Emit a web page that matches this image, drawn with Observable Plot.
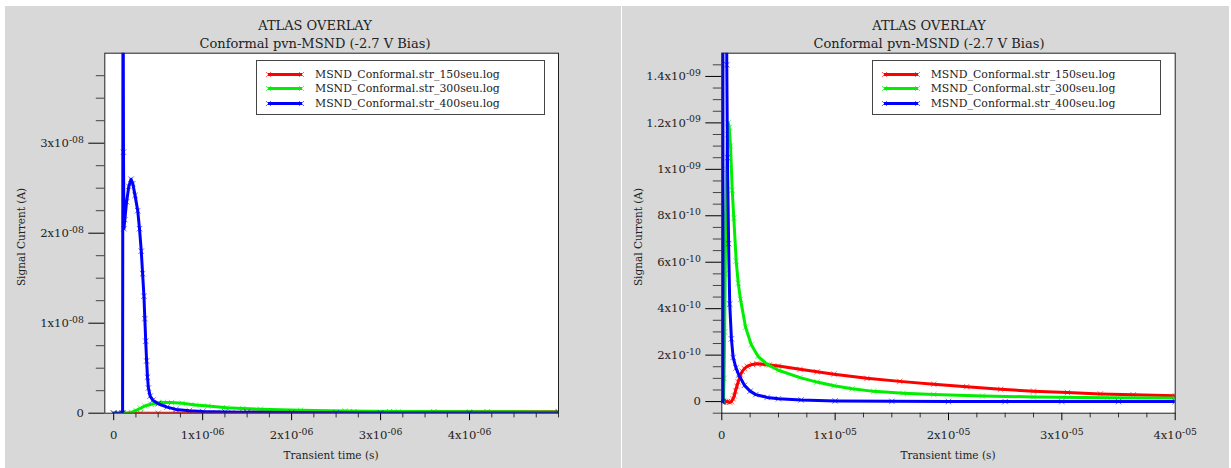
<!DOCTYPE html>
<html>
<head>
<meta charset="utf-8">
<script src="https://cdn.jsdelivr.net/npm/d3@7"></script>
<script src="https://cdn.jsdelivr.net/npm/@observablehq/plot@0.6"></script>
<style>
  html, body { margin: 0; padding: 0; background: #ffffff; }
  body { width: 1231px; height: 468px; position: relative; overflow: hidden; font-family: "DejaVu Serif", serif; color: #222; }
  .panel { position: absolute; top: 6px; height: 462px; background: #d8d8d8; overflow: hidden; }
  .panel svg.plot { position: absolute; left: 0; top: 0; }
  .title { position: absolute; transform: translate(-50%, -50%); white-space: nowrap; font-size: 13px; color: #222; }
  .ylab { position: absolute; transform: translate(-50%, -50%) rotate(-90deg); white-space: nowrap; font-size: 10.5px; color: #222; }
  .xlab { position: absolute; transform: translate(-50%, -50%); white-space: nowrap; font-size: 10.5px; color: #222; }
  .legend { position: absolute; border: 1px solid #444; background: #fff; box-sizing: border-box; padding-top: 6px; }
  .legend .row { height: 14.6px; display: flex; align-items: center; font-size: 10.9px; color: #222; white-space: nowrap; }
  .legend .row svg { margin-left: 9px; margin-right: 11px; }
</style>
</head>
<body>
<div id="p1" class="panel" style="left:5px;width:616px;"></div>
<div id="p2" class="panel" style="left:622px;width:607px;"></div>
<script>
// ---- series (time in s, current in A) ----
const seriesNames = ["MSND_Conformal.str_150seu.log", "MSND_Conformal.str_300seu.log", "MSND_Conformal.str_400seu.log"];
const seriesColors = ["#ff0000", "#00ee00", "#0000ff"];

const t150 = [0, 0.3e-6, 0.5e-6, 0.7e-6, 0.85e-6, 1.0e-6, 1.1e-6, 1.21e-6, 1.33e-6, 1.45e-6, 1.55e-6, 1.65e-6, 1.8e-6, 2.0e-6, 2.24e-6, 2.7e-6, 3.1e-6, 3.6e-6, 4.2e-6, 5.0e-6, 6.9e-6, 8.4e-6, 9.9e-6, 12.8e-6, 15.7e-6, 18.7e-6, 21.6e-6, 24.6e-6, 27.5e-6, 30.5e-6, 33.4e-6, 36.3e-6, 40e-6];
const i150 = [0, 0, 0, -0.03e-10, 0, 0.12e-10, 0.25e-10, 0.46e-10, 0.66e-10, 0.85e-10, 1.0e-10, 1.15e-10, 1.3e-10, 1.42e-10, 1.52e-10, 1.6e-10, 1.63e-10, 1.61e-10, 1.58e-10, 1.53e-10, 1.39e-10, 1.28e-10, 1.18e-10, 1.0e-10, 0.87e-10, 0.75e-10, 0.64e-10, 0.53e-10, 0.45e-10, 0.39e-10, 0.33e-10, 0.29e-10, 0.25e-10];

const t300 = [0, 0.1e-6, 0.15e-6, 0.2e-6, 0.25e-6, 0.3e-6, 0.35e-6, 0.42e-6, 0.5e-6, 0.56e-6, 0.65e-6, 0.77e-6, 0.92e-6, 1.06e-6, 1.27e-6, 1.45e-6, 1.65e-6, 2.1e-6, 2.6e-6, 3.2e-6, 4.0e-6, 5.0e-6, 6.9e-6, 8.4e-6, 9.9e-6, 11.5e-6, 13.4e-6, 16e-6, 18.7e-6, 23e-6, 27.5e-6, 34e-6, 40e-6];
const i300 = [0, 0, 0, 1.0e-10, 3.0e-10, 5.5e-10, 8.0e-10, 1.0e-9, 1.15e-9, 1.2e-9, 1.18e-9, 1.1e-9, 9.1e-10, 7.9e-10, 6.05e-10, 5.1e-10, 4.4e-10, 3.2e-10, 2.45e-10, 1.95e-10, 1.6e-10, 1.35e-10, 1.03e-10, 0.84e-10, 0.68e-10, 0.55e-10, 0.44e-10, 0.36e-10, 0.3e-10, 0.24e-10, 0.2e-10, 0.17e-10, 0.15e-10];

const t400 = [0, 0.05e-6, 0.095e-6, 0.1e-6, 0.105e-6, 0.11e-6, 0.115e-6, 0.125e-6, 0.145e-6, 0.17e-6, 0.195e-6, 0.215e-6, 0.24e-6, 0.27e-6, 0.29e-6, 0.31e-6, 0.325e-6, 0.34e-6, 0.35e-6, 0.36e-6, 0.37e-6, 0.38e-6, 0.39e-6, 0.41e-6, 0.44e-6, 0.5e-6, 0.6e-6, 0.7e-6, 0.85e-6, 1.0e-6, 1.25e-6, 1.5e-6, 2.0e-6, 2.5e-6, 3.0e-6, 4.0e-6, 5.0e-6, 7.0e-6, 10e-6, 15e-6, 20e-6, 25e-6, 30e-6, 35e-6, 40e-6];
const i400 = [0, 0, 0, 0, 5.5e-8, 2.9e-8, 2.05e-8, 2.15e-8, 2.35e-8, 2.52e-8, 2.6e-8, 2.55e-8, 2.42e-8, 2.25e-8, 2.05e-8, 1.8e-8, 1.55e-8, 1.3e-8, 1.05e-8, 0.8e-8, 0.58e-8, 0.4e-8, 0.28e-8, 0.19e-8, 1.45e-9, 1.05e-9, 6.8e-10, 4.2e-10, 2.7e-10, 1.9e-10, 1.45e-10, 1.15e-10, 0.7e-10, 0.45e-10, 0.3e-10, 0.18e-10, 0.12e-10, 0.07e-10, 0.03e-10, 0.01e-10, 0, 0, 0, 0, 0];

// ---- axes ----
const leftXDomain = [-1e-7, 5e-6];
const leftYDomain = [0, 4e-8];
const leftXTicks = [0, 1e-6, 2e-6, 3e-6, 4e-6];
const leftYTicks = [0, 1e-8, 2e-8, 3e-8];
const rightXDomain = [0, 4e-5];
const rightYDomain = [-5e-11, 1.5e-9];
const rightXTicks = [0, 1e-5, 2e-5, 3e-5, 4e-5];
const rightYTicks = [0, 2e-10, 4e-10, 6e-10, 8e-10, 1e-9, 1.2e-9, 1.4e-9];

const titleText = "ATLAS OVERLAY";
const subtitleText = "Conformal pvn-MSND (-2.7 V Bias)";
const xLabelText = "Transient time (s)";
const yLabelText = "Signal Current (A)";

const seriesData = [
  {name: seriesNames[0], color: seriesColors[0], rows: t150.map((t, k) => ({t, i: i150[k]}))},
  {name: seriesNames[1], color: seriesColors[1], rows: t300.map((t, k) => ({t, i: i300[k]}))},
  {name: seriesNames[2], color: seriesColors[2], rows: t400.map((t, k) => ({t, i: i400[k]}))}
];

function sci(v) {
  if (Math.abs(v) < 1e-30) return "0";
  const e = Math.floor(Math.log10(Math.abs(v)) + 1e-9);
  const m = +(v / Math.pow(10, e)).toFixed(2);
  return m + "x10^" + (e < 0 ? "-" : "+") + String(Math.abs(e)).padStart(2, "0");
}

function minorTicks(lo, hi, step, majors) {
  const out = [];
  const n = Math.round((hi - lo) / step);
  for (let k = 0; k <= n; k++) {
    const v = lo + k * step;
    if (!majors.some(m => Math.abs(m - v) < step * 1e-3)) out.push(v);
  }
  return out;
}

function superscripts(svg) {
  svg.querySelectorAll("text").forEach(t => {
    const s = t.textContent;
    if (!s.includes("^")) return;
    const [base, sup] = s.split("^");
    while (t.firstChild) t.removeChild(t.firstChild);
    const a = document.createElementNS("http://www.w3.org/2000/svg", "tspan");
    a.textContent = base;
    const b = document.createElementNS("http://www.w3.org/2000/svg", "tspan");
    b.textContent = sup;
    b.setAttribute("dy", "-0.45em");
    b.setAttribute("font-size", "0.8em");
    t.appendChild(a); t.appendChild(b);
  });
}

function makePanel(el, cfg) {
  const W = cfg.width, H = 462;
  const marks = [Plot.frame({fill: "#ffffff", stroke: "none"})];
  marks.push(Plot.axisX({ticks: cfg.minorX, tickSize: 4.7, tickFormat: () => "", label: null, stroke: "#333"}));
  marks.push(Plot.axisX({ticks: cfg.xTicks, tickSize: 7.5, tickPadding: 10.5, tickFormat: sci, label: null, stroke: "#000", fill: "#222"}));
  marks.push(Plot.axisY({ticks: cfg.minorY, tickSize: 8.5, tickFormat: () => "", label: null, stroke: "#444"}));
  marks.push(Plot.axisY({ticks: cfg.yTicks, tickSize: 16, tickPadding: 5, tickFormat: sci, label: null, stroke: "#000", fill: "#222"}));
  for (const s of seriesData) {
    marks.push(Plot.line(s.rows, {x: "t", y: "i", stroke: s.color, strokeWidth: 3, clip: true}));
    marks.push(Plot.dot(s.rows, {x: "t", y: "i", symbol: "times", r: 2.6, stroke: s.color, strokeWidth: 1, strokeOpacity: 0.6, clip: true}));
  }
  marks.push(Plot.frame({stroke: "#222", strokeWidth: 1}));
  const svg = Plot.plot({
    width: W, height: H,
    marginLeft: 99.3, marginRight: cfg.marginRight, marginTop: 46.7, marginBottom: H - 406.7,
    x: {domain: cfg.xDomain, label: null},
    y: {domain: cfg.yDomain, label: null},
    style: {background: "#d8d8d8", fontFamily: "DejaVu Serif", fontSize: "11.6px", color: "#222", overflow: "visible"},
    marks
  });
  svg.classList.add("plot");
  superscripts(svg);
  el.appendChild(svg);

  const add = (cls, text, x, y) => {
    const d = document.createElement("div");
    d.className = cls; d.textContent = text;
    d.style.left = x + "px"; d.style.top = y + "px";
    el.appendChild(d);
  };
  add("title", titleText, cfg.titleX, 19);
  add("title", subtitleText, cfg.titleX, 37);
  add("ylab", yLabelText, 15.5, 230.5);
  add("xlab", xLabelText, 326, 449);

  const lg = document.createElement("div");
  lg.className = "legend";
  lg.style.left = cfg.legendX + "px"; lg.style.top = "54px";
  lg.style.width = "289px"; lg.style.height = "55px";
  for (const s of seriesData) {
    const row = document.createElement("div");
    row.className = "row";
    const sw = document.createElementNS("http://www.w3.org/2000/svg", "svg");
    sw.setAttribute("width", "38"); sw.setAttribute("height", "9");
    sw.innerHTML = `<line x1="2" y1="4.5" x2="36" y2="4.5" stroke="${s.color}" stroke-width="3"/>` +
      `<path d="M0,2 L5,7 M0,7 L5,2 M33,2 L38,7 M33,7 L38,2" stroke="${s.color}" stroke-opacity="0.6" stroke-width="1" fill="none"/>`;
    row.appendChild(sw);
    const sp = document.createElement("span");
    sp.textContent = s.name;
    row.appendChild(sp);
    lg.appendChild(row);
  }
  el.appendChild(lg);
}

makePanel(document.getElementById("p1"), {
  width: 616, marginRight: 616 - 553,
  xDomain: leftXDomain, yDomain: leftYDomain,
  xTicks: leftXTicks, yTicks: leftYTicks,
  minorX: minorTicks(0, 5e-6, 0.25e-6, leftXTicks),
  minorY: minorTicks(0, 4e-8, 0.25e-8, leftYTicks.concat([4e-8])),
  titleX: 310, legendX: 251
});
makePanel(document.getElementById("p2"), {
  width: 607, marginRight: 607 - 552.7,
  xDomain: rightXDomain, yDomain: rightYDomain,
  xTicks: rightXTicks, yTicks: rightYTicks,
  minorX: minorTicks(0, 4e-5, 2.5e-6, rightXTicks),
  minorY: minorTicks(-5e-11, 1.5e-9, 5e-11, rightYTicks.concat([1.5e-9])),
  titleX: 307, legendX: 249.7
});
</script>
</body>
</html>
